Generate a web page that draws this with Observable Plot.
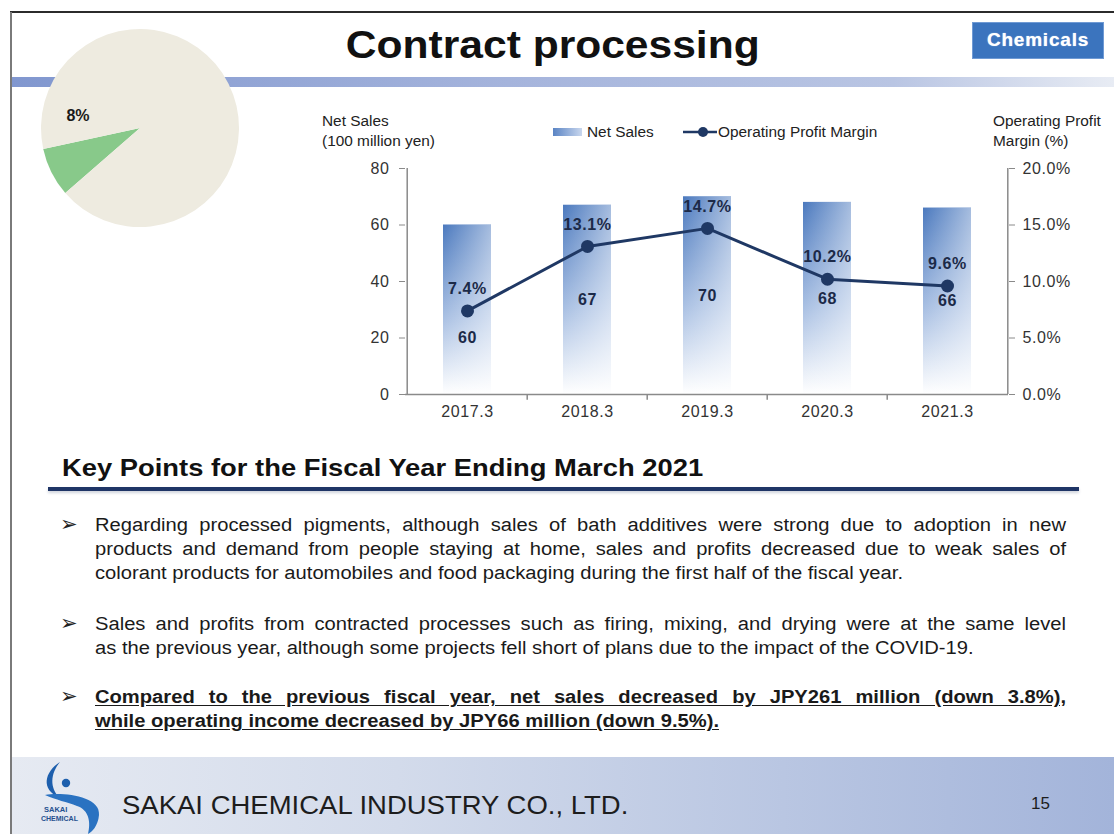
<!DOCTYPE html>
<html><head><meta charset="utf-8">
<script src="https://cdn.jsdelivr.net/npm/d3@7"></script>
<script src="https://cdn.jsdelivr.net/npm/@observablehq/plot@0.6"></script>
<style>
html,body{margin:0;padding:0;}
body{width:1114px;height:834px;position:relative;overflow:hidden;background:#fff;font-family:Arial,"Liberation Sans",sans-serif;color:#1a1a1a;}
.abs{position:absolute;}
.line{position:absolute;left:95px;width:867px;font-size:18px;line-height:24px;height:24px;white-space:nowrap;transform:scaleX(1.12);transform-origin:0 0;}
.just{text-align:justify;text-align-last:justify;white-space:normal;}
.bul{position:absolute;left:60px;font-size:21px;line-height:24px;font-family:"DejaVu Sans",sans-serif;color:#222;}
.bold{font-weight:bold;text-decoration:underline;text-underline-offset:2px;}
.sx{transform:scaleX(1.1);transform-origin:0 0;}
</style></head><body>

<div class="abs" style="left:10px;top:11px;width:1104px;height:2px;background:#2b2b2b"></div>
<div class="abs" style="left:10px;top:12px;width:2px;height:822px;background:#7a7a7a"></div>
<div class="abs" style="left:12px;top:77px;width:1102px;height:10px;background:linear-gradient(to right,#8197cf 0%,#a5b4dc 45%,#b9c5e3 80%,#e8ecf4 100%)"></div>

<div id="pie" class="abs" style="left:0;top:0"></div>

<div class="abs" style="left:0;top:26px;width:1106px;text-align:center;">
  <span style="display:inline-block;font-size:38px;line-height:38px;font-weight:bold;color:#111;transform:scaleX(1.12)">Contract processing</span>
</div>
<div class="abs" style="left:972px;top:22px;width:130px;height:35px;background:#3b74be;border:1px solid #6f9ad4;color:#fff;font-weight:bold;font-size:19px;line-height:34px;text-align:center;letter-spacing:0.8px;text-shadow:0 0 1px #cfe0f5">Chemicals</div>

<div class="abs sx" style="left:322px;top:111px;font-size:14px;line-height:20px;color:#222;white-space:nowrap">Net Sales<br>(100 million yen)</div>
<div class="abs sx" style="left:993px;top:111px;font-size:14px;line-height:20px;color:#222;white-space:nowrap">Operating Profit<br>Margin (%)</div>
<div class="abs" style="left:553px;top:128px;width:29px;height:8px;background:linear-gradient(to right,#5a84c4,#c9d7ee)"></div>
<div class="abs sx" style="left:587px;top:125px;font-size:14px;line-height:14px;color:#222;white-space:nowrap">Net Sales</div>
<svg class="abs" style="left:682px;top:124px" width="36" height="16"><line x1="1" y1="8" x2="35" y2="8" stroke="#1f3864" stroke-width="2.5"/><circle cx="21" cy="8" r="5" fill="#1f3864"/></svg>
<div class="abs sx" style="left:718px;top:125px;font-size:14px;line-height:14px;color:#222;white-space:nowrap">Operating Profit Margin</div>

<div id="chart" class="abs" style="left:0;top:150px"></div>

<div class="abs" style="left:62px;top:455px;font-size:24px;line-height:26px;font-weight:bold;color:#111;white-space:nowrap;transform:scaleX(1.14);transform-origin:0 0">Key Points for the Fiscal Year Ending March 2021</div>
<div class="abs" style="left:48px;top:487px;width:1031px;height:4px;background:#1f3566;box-shadow:0 2px 3px #d0d4dc"></div>

<div class="bul" style="top:512px">&#10146;</div>
<div class="line just" style="top:513px">Regarding processed pigments, although sales of bath additives were strong due to adoption in new</div>
<div class="line just" style="top:537px">products and demand from people staying at home, sales and profits decreased due to weak sales of</div>
<div class="line" style="top:561px">colorant products for automobiles and food packaging during the first half of the fiscal year.</div>

<div class="bul" style="top:611px">&#10146;</div>
<div class="line just" style="top:612px">Sales and profits from contracted processes such as firing, mixing, and drying were at the same level</div>
<div class="line" style="top:636px">as the previous year, although some projects fell short of plans due to the impact of the COVID-19.</div>

<div class="bul" style="top:684px">&#10146;</div>
<div class="line just bold" style="top:685px">Compared to the previous fiscal year, net sales decreased by JPY261 million (down 3.8%),</div>
<div class="line bold" style="top:709px">while operating income decreased by JPY66 million (down 9.5%).</div>

<div class="abs" style="left:12px;top:757px;width:1102px;height:77px;background:linear-gradient(to right,#e6eaf2 0%,#d3dbeb 35%,#b9c6e2 70%,#a3b4da 100%)"></div>
<svg class="abs" style="left:0;top:750px" width="120" height="84">
  <path d="M60,12 C44,22 41,40 59,47 C50,38 50,24 60,12 Z" fill="#1d5fad"/>
  <circle cx="66" cy="33" r="4.2" fill="#1d5fad"/>
  <path d="M45,45 C62,42 101,46 99,65 C98,76 92,82 88,84 C91,72 89,60 77,56 C67,52 56,50 45,45 Z" fill="#2a72c1"/>
  <text x="44" y="62" font-size="7.5" font-weight="bold" fill="#24508f" font-family="Arial">SAKAI</text>
  <text x="41" y="71" font-size="7" font-weight="bold" fill="#24508f" font-family="Arial">CHEMICAL</text>
</svg>
<div class="abs" style="left:122px;top:791px;font-size:25px;line-height:28px;color:#1d1d1d;white-space:nowrap;transform:scaleX(1.1);transform-origin:0 0">SAKAI CHEMICAL INDUSTRY CO., LTD.</div>
<div class="abs" style="left:1031px;top:795px;font-size:17px;line-height:18px;color:#1d1d1d">15</div>

<script>
// ---- data ----
const years = ["2017.3", "2018.3", "2019.3", "2020.3", "2021.3"];
const netSales = [60, 67, 70, 68, 66];
const margins = [7.4, 13.1, 14.7, 10.2, 9.6];
const salesTicks = [0, 20, 40, 60, 80];
const marginTickLabels = ["0.0%", "5.0%", "10.0%", "15.0%", "20.0%"];
const pieShares = [8, 92];
const pieLabels = ["8%", ""];
const pieColors = ["#88c98a", "#eeebe0"];

// ---- pie (share of segment) ----
(function () {
  const W = 260, H = 240, cx = 140, cy = 128, R = 99;
  const svg = d3.select("#pie").append("svg").attr("width", W).attr("height", H);
  const start = 229 * Math.PI / 180;
  const arcs = d3.pie().sort(null).startAngle(start).endAngle(start + 2 * Math.PI)(pieShares);
  const arc = d3.arc().innerRadius(0).outerRadius(R);
  const g = svg.append("g").attr("transform", `translate(${cx},${cy})`);
  g.selectAll("path").data(arcs).join("path").attr("d", arc).attr("fill", (d, i) => pieColors[i]);
  g.append("text").attr("x", -62).attr("y", -7).attr("text-anchor", "middle")
    .attr("font-size", 16).attr("font-weight", "bold").attr("fill", "#1a1a1a")
    .attr("font-family", "Arial, 'Liberation Sans', sans-serif").text(pieLabels[0]);
})();

// ---- bar + line chart ----
const data = years.map((y, i) => ({year: y, sales: netSales[i], margin: margins[i]}));
const W = 1114, H = 280, mL = 405, mR = 106, mT = 18, mB = 36;
const step = (W - mL - mR) / years.length;
const ratio = 80 / 20; // margin axis (0–20%) onto the sales axis (0–80)
const axisGray = "#8a8a8a";
const labelColor = "#1c2a48";

const chart = Plot.plot({
  width: W, height: H, marginLeft: mL, marginRight: mR, marginTop: mT, marginBottom: mB,
  x: {domain: years, paddingInner: 0.6, paddingOuter: 0.3, label: null},
  y: {domain: [0, 80], label: null},
  style: {fontFamily: "Arial, 'Liberation Sans', sans-serif", fontSize: "16px", color: "#333", background: "transparent", overflow: "visible", letterSpacing: "0.6px"},
  marks: [
    Plot.barY(data, {x: "year", y: "sales", fill: "url(#barGrad)"}),
    Plot.barY(data, {x: "year", y: "sales", fill: "url(#barShine)"}),
    Plot.ruleY([0], {stroke: axisGray, strokeWidth: 1.5}),
    Plot.ruleX([years[0]], {x: d => d, y1: 0, y2: 80, dx: -step / 2, stroke: axisGray, strokeWidth: 1.5}),
    Plot.ruleX([years[years.length - 1]], {x: d => d, y1: 0, y2: 80, dx: step / 2, stroke: axisGray, strokeWidth: 1.5}),
    Plot.ruleX(years.slice(1), {x: d => d, y1: 0, y2: -2, dx: -step / 2, stroke: axisGray, strokeWidth: 1.5}),
    Plot.axisY({anchor: "left", ticks: salesTicks, tickSize: 6, tickPadding: 10, stroke: axisGray, fill: "#333", fontSize: 16, label: null}),
    Plot.axisY({anchor: "right", ticks: salesTicks, tickSize: 6, tickPadding: 8, stroke: axisGray, fill: "#333", fontSize: 16, label: null,
      tickFormat: d => marginTickLabels[salesTicks.indexOf(d)]}),
    Plot.axisX({tickSize: 0, tickPadding: 11, fill: "#333", fontSize: 16, label: null}),
    Plot.line(data, {x: "year", y: d => d.margin * ratio, stroke: "#1f3864", strokeWidth: 3}),
    Plot.dot(data, {x: "year", y: d => d.margin * ratio, r: 6.5, fill: "#1f3864"}),
    Plot.text(data, {x: "year", y: d => d.margin * ratio, text: d => d.margin.toFixed(1) + "%", dy: -22, fontWeight: "bold", fontSize: 16, fill: labelColor}),
    Plot.text(data.slice(1), {x: "year", y: d => d.sales / 2, text: d => String(d.sales), fontWeight: "bold", fontSize: 16, fill: labelColor}),
    Plot.text(data.slice(0, 1), {x: "year", y: d => d.sales / 2, dy: 28, text: d => String(d.sales), fontWeight: "bold", fontSize: 16, fill: labelColor})
  ]
});

const defs = d3.select(chart).insert("defs", ":first-child");
const g1 = defs.append("linearGradient").attr("id", "barGrad").attr("x1", 0).attr("y1", 0).attr("x2", 0).attr("y2", 1);
g1.append("stop").attr("offset", "0%").attr("stop-color", "#4b79be");
g1.append("stop").attr("offset", "55%").attr("stop-color", "#a9c0e3");
g1.append("stop").attr("offset", "100%").attr("stop-color", "#ffffff");
const g2 = defs.append("linearGradient").attr("id", "barShine").attr("x1", 0).attr("y1", 0).attr("x2", 1).attr("y2", 0);
g2.append("stop").attr("offset", "0%").attr("stop-color", "#ffffff").attr("stop-opacity", 0);
g2.append("stop").attr("offset", "100%").attr("stop-color", "#ffffff").attr("stop-opacity", 0.5);

document.getElementById("chart").appendChild(chart);
</script>
</body></html>
